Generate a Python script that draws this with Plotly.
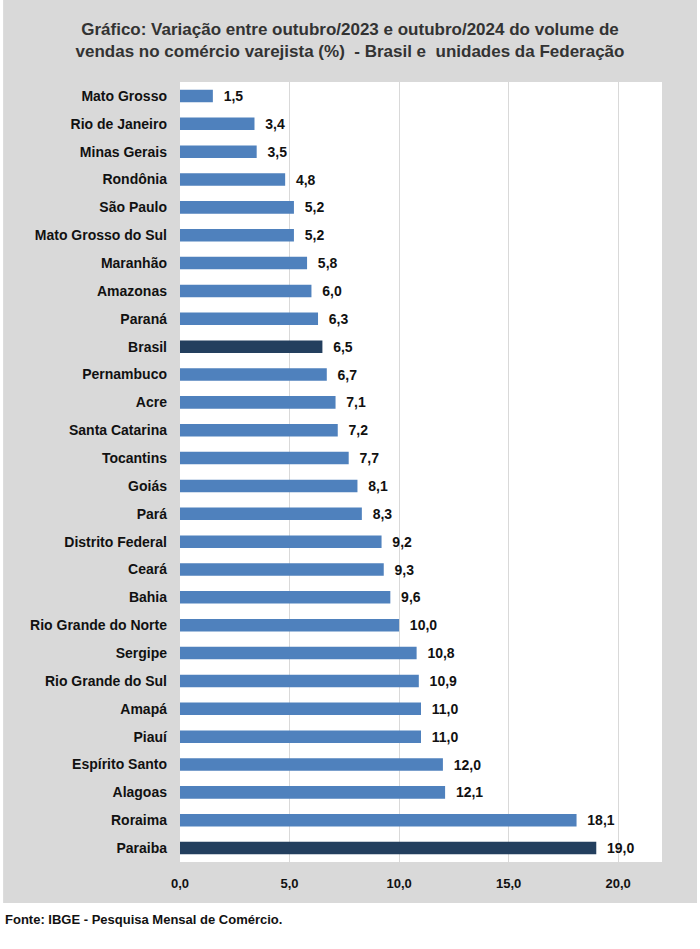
import plotly.graph_objects as go

# dados (variação %, out/2023 -> out/2024)
estados = ["Mato Grosso", "Rio de Janeiro", "Minas Gerais", "Rondônia", "São Paulo",
           "Mato Grosso do Sul", "Maranhão", "Amazonas", "Paraná", "Brasil",
           "Pernambuco", "Acre", "Santa Catarina", "Tocantins", "Goiás", "Pará",
           "Distrito Federal", "Ceará", "Bahia", "Rio Grande do Norte", "Sergipe",
           "Rio Grande do Sul", "Amapá", "Piauí", "Espírito Santo", "Alagoas",
           "Roraima", "Paraiba"]
variacao = [1.5, 3.4, 3.5, 4.8, 5.2, 5.2, 5.8, 6.0, 6.3, 6.5, 6.7, 7.1, 7.2, 7.7,
            8.1, 8.3, 9.2, 9.3, 9.6, 10.0, 10.8, 10.9, 11.0, 11.0, 12.0, 12.1,
            18.1, 19.0]
destaques = ["Brasil", "Paraiba"]

azul = "#4f81bd"
azul_escuro = "#233f5e"
cores = [azul_escuro if e in destaques else azul for e in estados]

fonte = "Liberation Sans Narrow, Liberation Sans, Arial Narrow, sans-serif"

fig = go.Figure(go.Bar(
    x=variacao, y=estados, orientation="h",
    marker=dict(color=cores, line=dict(width=0)),
    texttemplate="\u00a0\u00a0%{x:.1f}", textposition="outside",
    constraintext="none",
    textfont=dict(size=14, color="#111111", family=fonte, weight="bold"),
    cliponaxis=False,
))

fig.update_layout(
    width=700, height=949,
    margin=dict(l=180, r=38, t=82, b=87),
    paper_bgcolor="white", plot_bgcolor="white",
    separators=",.",
    bargap=0.55,
    showlegend=False,
    font=dict(family=fonte, color="#111111"),
    title=dict(
        text="<b>Gráfico: Variação entre outubro/2023 e outubro/2024 do volume de<br>"
             "vendas no comércio varejista (%)  - Brasil e  unidades da Federação</b>",
        x=0.5, xanchor="center", y=0.963, yanchor="top",
        font=dict(size=17, color="#333333", family=fonte),
    ),
    xaxis=dict(range=[0, 22], tickvals=[0, 5, 10, 15, 20], tickformat=".1f",
               showgrid=True, gridcolor="#d9d9d9", gridwidth=1, zeroline=False,
               showline=False, ticks="", ticklabelstandoff=12,
               tickfont=dict(size=13, color="#111111", family=fonte, weight="bold")),
    yaxis=dict(autorange="reversed", showgrid=False, ticks="", ticklabelstandoff=12,
               tickfont=dict(size=14, color="#111111", family=fonte, weight="bold")),
)

# painel cinza atrás do gráfico, depois área branca do gráfico
fig.add_shape(type="rect", xref="paper", yref="paper",
              x0=-0.367, x1=1.0726, y0=-0.0526, y1=1.105,
              fillcolor="#d9d9d9", line=dict(width=0), layer="below")
fig.add_shape(type="rect", xref="paper", yref="paper",
              x0=0, x1=1, y0=0, y1=1,
              fillcolor="white", line=dict(width=0), layer="below")

fig.add_annotation(text="<b>Fonte: IBGE - Pesquisa Mensal de Comércio.</b>",
                   xref="paper", yref="paper", x=-0.367, y=-0.0615,
                   xanchor="left", yanchor="top", showarrow=False,
                   font=dict(size=13, color="#111111", family=fonte))

fig.write_html("out.html", config={"displayModeBar": False},
               post_script="document.body.style.margin='0';")
